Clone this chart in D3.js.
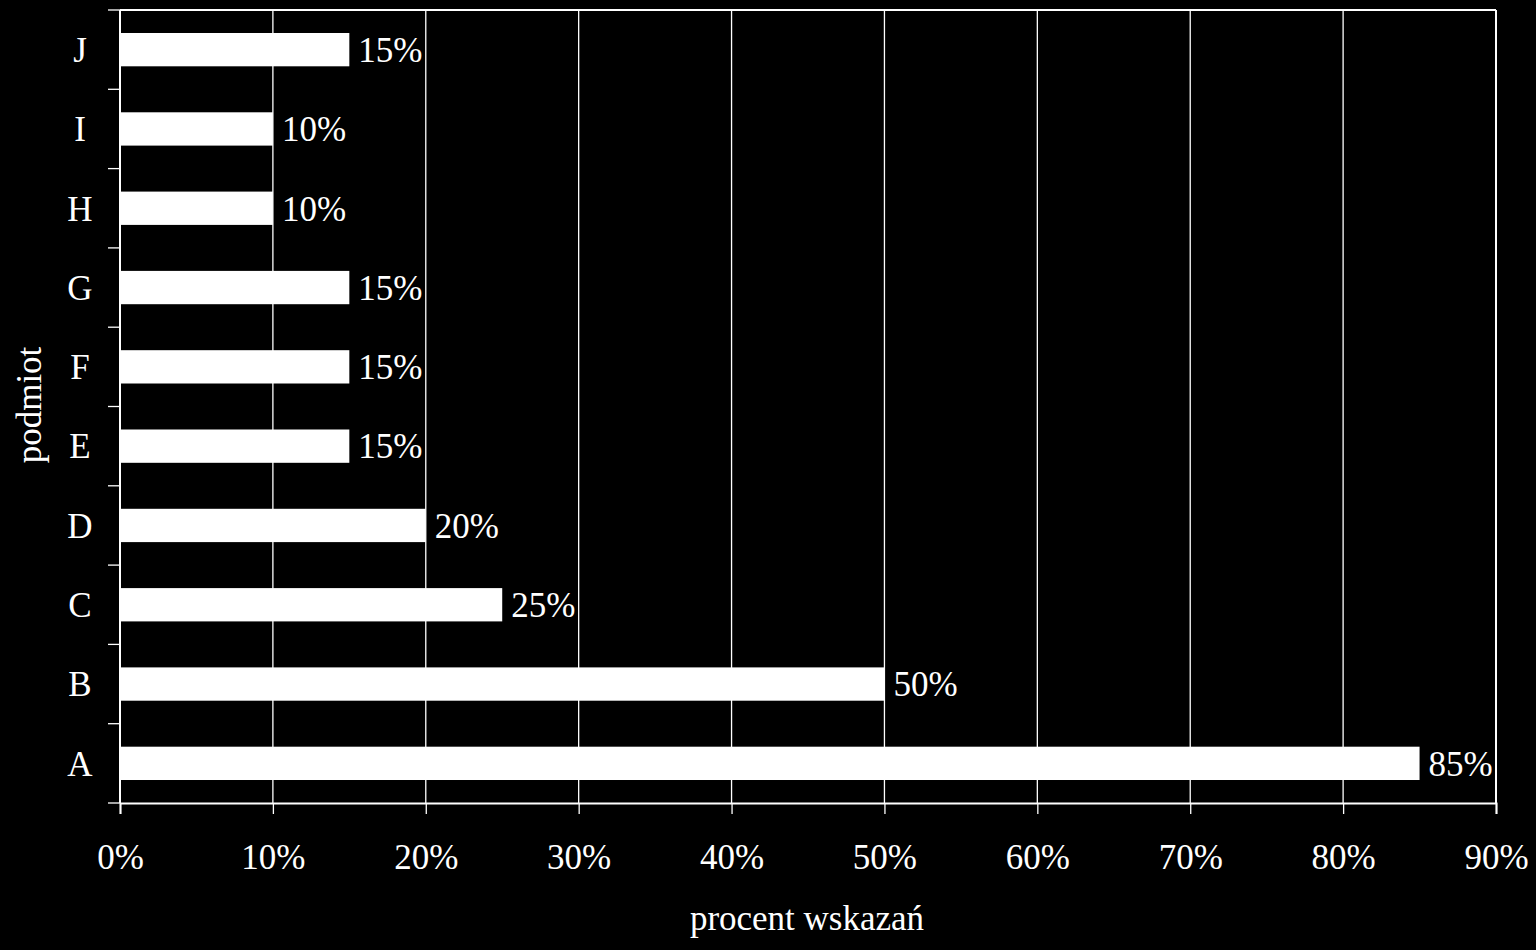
<!DOCTYPE html>
<html>
<head>
<meta charset="utf-8">
<script src="https://cdn.jsdelivr.net/npm/d3@7"></script>
<style>
  html, body { margin: 0; padding: 0; background: #000; }
  text { font-family: "Liberation Serif", "Times New Roman", serif; fill: #fff; }
</style>
</head>
<body>
<script>
(function(){

  var categories = ["A", "B", "C", "D", "E", "F", "G", "H", "I", "J"];
  var values = [85, 50, 25, 20, 15, 15, 15, 10, 10, 15];
  var xTicks = [0, 10, 20, 30, 40, 50, 60, 70, 80, 90];

  const WIDTH = 1536;
  const HEIGHT = 950;
  const LEFT = 120, RIGHT = 1496, TOP = 10, BOTTOM = 803;
  const FONT = 35;

  var svg = d3.select("body").append("svg")
    .attr("width", WIDTH).attr("height", HEIGHT)
    .style("background-color", "#000");

  var x = d3.scaleLinear().domain([0, 90]).range([LEFT, RIGHT]);
  var y = d3.scaleBand().domain(categories.slice().reverse())
    .range([TOP, BOTTOM]).paddingInner(0.58).paddingOuter(0.29);
  var yb = d3.scaleBand().domain(categories.slice().reverse()).range([TOP, BOTTOM]);

  // grid lines
  svg.selectAll("line.grid").data(xTicks.slice(1)).enter().append("line")
    .attr("class", "grid")
    .attr("x1", function(d){ return x(d); }).attr("x2", function(d){ return x(d); })
    .attr("y1", TOP).attr("y2", BOTTOM)
    .attr("stroke", "#fff").attr("stroke-width", 1.3);

  // top border
  svg.append("line").attr("x1", LEFT).attr("x2", RIGHT).attr("y1", TOP).attr("y2", TOP)
    .attr("stroke", "#fff").attr("stroke-width", 2);

  // bars
  svg.selectAll("rect.bar").data(values).enter().append("rect")
    .attr("class", "bar")
    .attr("x", x(0))
    .attr("y", function(d, i){ return y(categories[i]); })
    .attr("width", function(d){ return x(d) - x(0); })
    .attr("height", y.bandwidth())
    .attr("fill", "#fff");

  // value labels
  svg.selectAll("text.val").data(values).enter().append("text")
    .attr("class", "val")
    .attr("x", function(d){ return x(d) + 9; })
    .attr("y", function(d, i){ return y(categories[i]) + y.bandwidth() / 2; })
    .attr("dy", "0.35em")
    .style("font-size", FONT + "px")
    .text(function(d){ return d + "%"; });

  // x axis
  var xAxis = svg.append("g").attr("transform", "translate(0," + BOTTOM + ")")
    .call(d3.axisBottom(x).tickValues(xTicks).tickSize(11).tickPadding(30)
      .tickFormat(function(d){ return d + "%"; }));
  xAxis.select(".domain").attr("stroke", "#fff").attr("stroke-width", 2);
  xAxis.selectAll(".tick line").attr("stroke", "#fff").attr("stroke-width", 1.3);
  xAxis.selectAll(".tick text").attr("fill", "#fff")
    .style("font-family", "'Liberation Serif', serif").style("font-size", FONT + "px");

  // y axis (ticks at band boundaries)
  svg.append("line").attr("x1", LEFT).attr("x2", LEFT).attr("y1", TOP).attr("y2", BOTTOM)
    .attr("stroke", "#fff").attr("stroke-width", 2);
  var bounds = categories.map(function(c){ return yb(c); }).concat([BOTTOM]);
  svg.selectAll("line.ytick").data(bounds).enter().append("line")
    .attr("class", "ytick")
    .attr("x1", LEFT - 12).attr("x2", LEFT)
    .attr("y1", function(d){ return d; }).attr("y2", function(d){ return d; })
    .attr("stroke", "#fff").attr("stroke-width", 1.3);

  svg.selectAll("text.cat").data(categories).enter().append("text")
    .attr("class", "cat")
    .attr("x", 80)
    .attr("y", function(c){ return y(c) + y.bandwidth() / 2; })
    .attr("dy", "0.35em")
    .attr("text-anchor", "middle")
    .style("font-size", FONT + "px")
    .text(function(c){ return c; });

  // right border
  svg.append("line").attr("x1", RIGHT).attr("x2", RIGHT).attr("y1", TOP).attr("y2", BOTTOM)
    .attr("stroke", "#fff").attr("stroke-width", 2);

  // axis titles
  svg.append("text").attr("x", (LEFT + RIGHT) / 2 - 1).attr("y", 930)
    .attr("text-anchor", "middle").style("font-size", FONT + "px")
    .text("procent wskazań");

  svg.append("text").attr("transform", "translate(41,405) rotate(-90)")
    .attr("text-anchor", "middle").style("font-size", FONT + "px")
    .text("podmiot");

})();
</script>
</body>
</html>
